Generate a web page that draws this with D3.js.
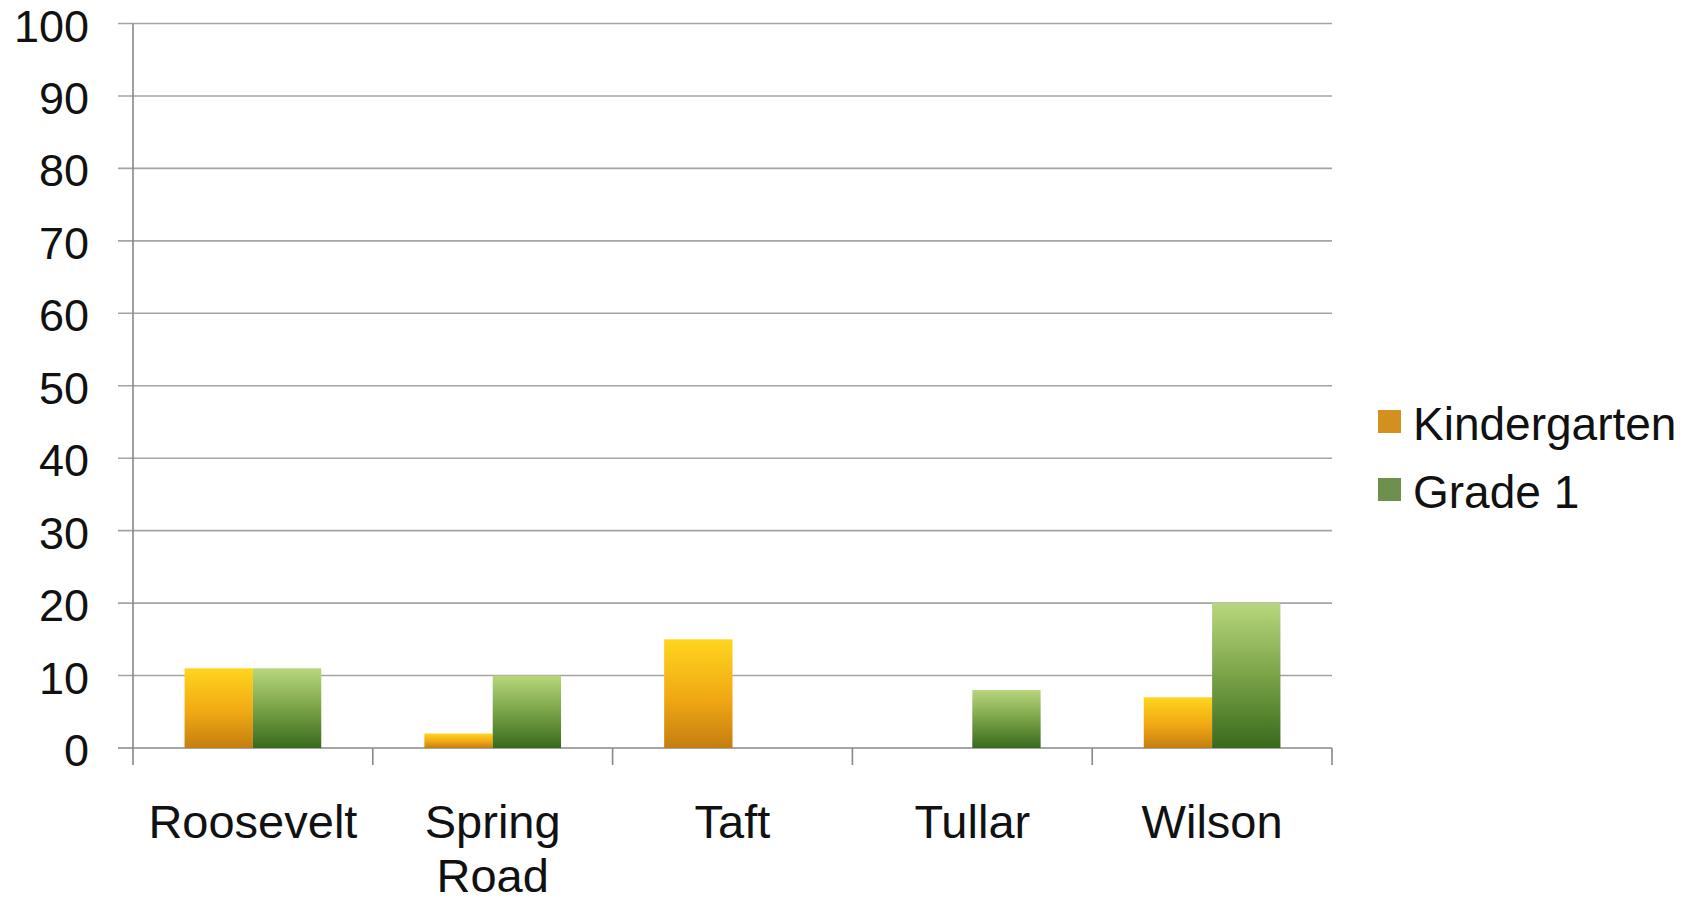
<!DOCTYPE html>
<html><head><meta charset="utf-8">
<script src="https://cdn.jsdelivr.net/npm/d3@7"></script>
<style>
html,body{margin:0;padding:0;background:#fff;}
svg{display:block;font-family:"Liberation Sans",Arial,sans-serif;}
</style></head>
<body>
<svg id="chart" width="1705" height="903"></svg>
<script>
const categories = ["Roosevelt", "Spring Road", "Taft", "Tullar", "Wilson"];
const seriesNames = ["Kindergarten", "Grade 1"];
const kindergarten = [11, 2, 15, 0, 7];
const grade1 = [11, 10, 0, 8, 20];
const yTicks = [0, 10, 20, 30, 40, 50, 60, 70, 80, 90, 100];

(function(){
const svg = d3.select("#chart");
const defs = svg.append("defs");
const gradK = defs.append("linearGradient").attr("id","gK").attr("x1",0).attr("y1",0).attr("x2",0).attr("y2",1);
gradK.append("stop").attr("offset","0%").attr("stop-color","#ffd51e");
gradK.append("stop").attr("offset","55%").attr("stop-color","#f0a814");
gradK.append("stop").attr("offset","100%").attr("stop-color","#c47e10");
const gradG = defs.append("linearGradient").attr("id","gG").attr("x1",0).attr("y1",0).attr("x2",0).attr("y2",1);
gradG.append("stop").attr("offset","0%").attr("stop-color","#b8d77c");
gradG.append("stop").attr("offset","50%").attr("stop-color","#7aa348");
gradG.append("stop").attr("offset","100%").attr("stop-color","#386a1c");

const pLeft = 133, pRight = 1332, pTop = 23.5, pBottom = 748;
const y = d3.scaleLinear().domain([0,100]).range([pBottom, pTop]);
const x0 = d3.scaleBand().domain(categories).range([pLeft, pRight]).paddingInner(0).paddingOuter(0);
const bw = x0.bandwidth();
const x1 = d3.scaleBand().domain(seriesNames).range([bw*0.215, bw*0.785]).padding(0);

// gridlines
svg.append("g").selectAll("line").data(yTicks).join("line")
  .attr("x1", pLeft - 15).attr("x2", pRight)
  .attr("y1", d => y(d)).attr("y2", d => y(d))
  .attr("stroke", d => d === 0 ? "#888" : "#a4a4a4").attr("stroke-width", 1.6);

// y axis line
svg.append("line").attr("x1", pLeft).attr("x2", pLeft).attr("y1", pTop).attr("y2", pBottom + 17)
  .attr("stroke", "#888").attr("stroke-width", 1.6);

// category tick marks
const tickXs = categories.map(c => x0(c)).concat([pRight]);
svg.append("g").selectAll("line").data(tickXs.slice(1)).join("line")
  .attr("x1", d => d).attr("x2", d => d).attr("y1", pBottom).attr("y2", pBottom + 17)
  .attr("stroke", "#888").attr("stroke-width", 1.6);

// y labels
svg.append("g").selectAll("text").data(yTicks).join("text")
  .attr("x", 89).attr("y", d => y(d)).attr("dy", "0.4em")
  .attr("text-anchor", "end").attr("font-size", 45).attr("fill", "#111")
  .text(d => d);

// bars
const rows = categories.map((c,i) => ({cat:c, vals:[kindergarten[i], grade1[i]]}));
const g = svg.append("g").selectAll("g").data(rows).join("g")
  .attr("transform", d => `translate(${x0(d.cat)},0)`);
g.selectAll("rect").data(d => d.vals.map((v,j) => ({s:seriesNames[j], v, j})).filter(d => d.v > 0)).join("rect")
  .attr("x", d => x1(d.s)).attr("width", x1.bandwidth())
  .attr("y", d => y(d.v)).attr("height", d => y(0) - y(d.v))
  .attr("fill", d => d.j === 0 ? "url(#gK)" : "url(#gG)");

// category labels
const labG = svg.append("g");
categories.forEach(c => {
  const words = c.split(" ");
  const t = labG.append("text").attr("x", x0(c) + bw/2).attr("y", 838)
    .attr("text-anchor","middle").attr("font-size", 47).attr("fill","#111");
  words.forEach((w,i) => {
    t.append("tspan").attr("x", x0(c) + bw/2).attr("dy", i === 0 ? 0 : 54).text(w);
  });
});

// legend
const legColors = ["#d4901e", "#6f8f4c"];
const leg = svg.append("g");
seriesNames.forEach((s,i) => {
  const yy = 410 + i*68;
  leg.append("rect").attr("x", 1378).attr("y", yy).attr("width", 23).attr("height", 23).attr("fill", legColors[i]);
  leg.append("text").attr("x", 1413).attr("y", yy + 30).attr("font-size", 46).attr("fill","#111").text(s);
});
})();
</script>
</body></html>
